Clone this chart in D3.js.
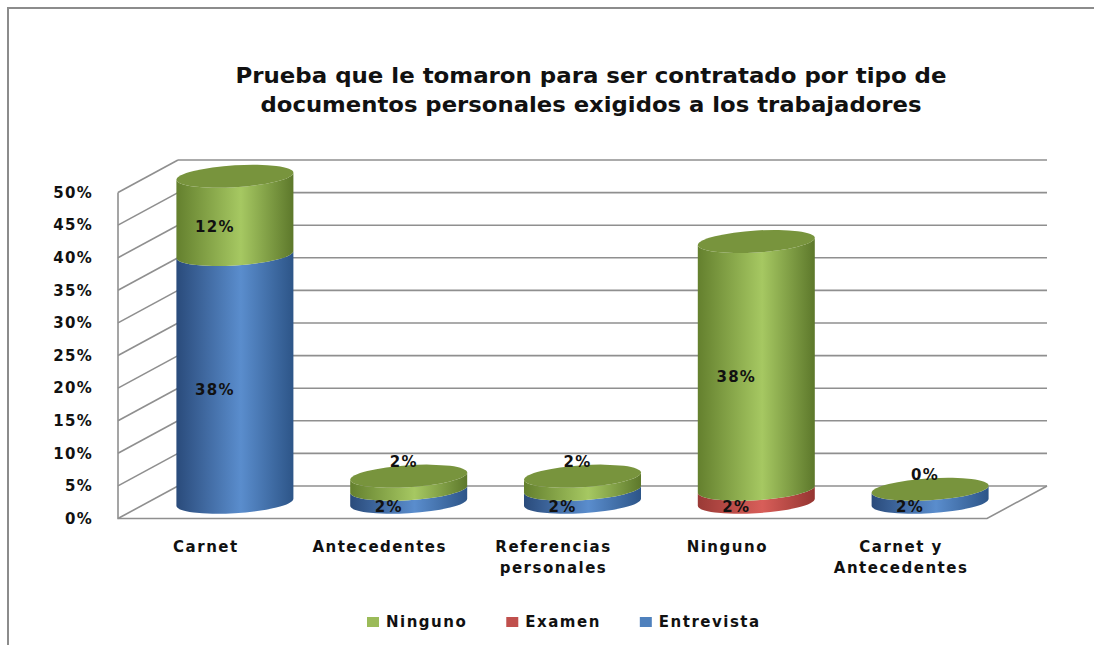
<!DOCTYPE html>
<html>
<head>
<meta charset="utf-8">
<script src="https://cdn.jsdelivr.net/npm/d3@7"></script>
<style>
  body { margin: 0; background: #fff; }
  text { font-family: "DejaVu Sans", Verdana, sans-serif; fill: #111; }
</style>
</head>
<body>
<script>
// Chart data
const titleLines = ["Prueba que le tomaron para ser contratado por tipo de",
                    "documentos personales exigidos a los trabajadores"];
const categories = ["Carnet", "Antecedentes", "Referencias personales", "Ninguno", "Carnet y Antecedentes"];
const categoryLines = [["Carnet"], ["Antecedentes"], ["Referencias", "personales"], ["Ninguno"], ["Carnet y", "Antecedentes"]];
const series = ["Entrevista", "Examen", "Ninguno"];   // stacking order, bottom to top
const entrevista = [38, 2, 2, null, 2];
const examen = [null, null, null, 2, null];
const ninguno = [12, 2, 2, 38, 0];
const yTicks = [0, 5, 10, 15, 20, 25, 30, 35, 40, 45, 50];
const legendOrder = ["Ninguno", "Examen", "Entrevista"];

const values = { Entrevista: entrevista, Examen: examen, Ninguno: ninguno };

const colors = {
  Entrevista: { left: "#2a4b7b", light: "#5a8dcd", right: "#2d5588", top: "#4a78b0", key: "#4f81bd" },
  Examen:     { left: "#9a3a36", light: "#d85e59", right: "#953531", top: "#c0504d", key: "#c0504d" },
  Ninguno:    { left: "#64802e", light: "#a6c862", right: "#5d782b", top: "#78943d", key: "#9bbb59" }
};

const width = 1094;
const height = 645;
const depth = { x: -60, y: 32.5 };   // offset from back wall to front edge
const cylWidth = 117;
const ry = 11;
const tilt = -3.5;

const svg = d3.select("body").append("svg")
    .attr("width", width)
    .attr("height", height);

// outer frame (only top and left show)
svg.append("path")
    .attr("d", `M8,${height} L8,8 L${width},8`)
    .attr("fill", "none")
    .attr("stroke", "#8c8c8c")
    .attr("stroke-width", 2);

// Title
svg.append("g").selectAll("text")
    .data(titleLines)
    .enter().append("text")
    .attr("x", 591)
    .attr("y", (d, i) => 83 + i * 29)
    .attr("text-anchor", "middle")
    .attr("font-size", 21)
    .attr("font-weight", "bold")
    .attr("textLength", (d, i) => i === 0 ? 711 : 661)
    .attr("lengthAdjust", "spacingAndGlyphs")
    .text(d => d);

// Scales on the back wall
const x = d3.scaleBand().domain(categories).range([178, 1047]);
const y = d3.scaleLinear().domain([0, 50]).range([486, 160]);
const x0 = x.range()[0], x1 = x.range()[1];

// gradients for cylinder sides
const defs = svg.append("defs");
series.forEach(s => {
  const g = defs.append("linearGradient")
      .attr("id", "grad-" + s)
      .attr("x1", 0).attr("x2", 1).attr("y1", 0).attr("y2", 0);
  g.append("stop").attr("offset", 0).attr("stop-color", colors[s].left);
  g.append("stop").attr("offset", 0.55).attr("stop-color", colors[s].light);
  g.append("stop").attr("offset", 1).attr("stop-color", colors[s].right);
});

const grid = svg.append("g")
    .attr("stroke", "#8f8f8f")
    .attr("stroke-width", 1.6)
    .attr("fill", "none");

// back wall gridlines
grid.selectAll(".back")
    .data(yTicks)
    .enter().append("line")
    .attr("x1", x0).attr("x2", x1)
    .attr("y1", d => y(d)).attr("y2", d => y(d));

// left wall gridlines
grid.selectAll(".side")
    .data(yTicks)
    .enter().append("line")
    .attr("x1", x0).attr("y1", d => y(d))
    .attr("x2", x0 + depth.x).attr("y2", d => y(d) + depth.y);

// left wall front edge and floor
grid.append("path")
    .attr("d", `M${x0 + depth.x},${y(50) + depth.y} L${x0 + depth.x},${y(0) + depth.y}
                L${x1 + depth.x},${y(0) + depth.y} L${x1},${y(0)}`);

// y axis labels
svg.append("g").selectAll("text")
    .data(yTicks)
    .enter().append("text")
    .attr("x", 93)
    .attr("y", d => y(d) + depth.y)
    .attr("dy", "0.35em")
    .attr("text-anchor", "end")
    .attr("font-size", 15)
    .attr("font-weight", "bold")
    .attr("letter-spacing", 1.3)
    .text(d => d + "%");

// category labels at the front edge
const catG = svg.append("g").selectAll("text")
    .data(categories)
    .enter().append("text")
    .attr("text-anchor", "middle")
    .attr("font-size", 15)
    .attr("font-weight", "bold")
    .attr("letter-spacing", 1.5);
catG.selectAll("tspan")
    .data((d, i) => categoryLines[i].map(t => ({ t, c: d })))
    .enter().append("tspan")
    .attr("x", d => x(d.c) + x.bandwidth() / 2 + depth.x + 1)
    .attr("y", (d, i) => 552 + i * 21)
    .text(d => d.t);

// cylinders
const midY = v => y(v) + depth.y / 2;
const r = cylWidth / 2;

function sidePath(v0, v1) {
  const yb = midY(v0), yt = midY(v1);
  return `M${-r},${yt} L${-r},${yb} A${r},${ry} 0 0 0 ${r},${yb} L${r},${yt} A${r},${ry} 0 0 1 ${-r},${yt} Z`;
}

const labels = [];
categories.forEach((c, i) => {
  const cx = x(c) + x.bandwidth() / 2 + depth.x / 2;
  const segs = [];
  let acc = 0;
  series.forEach(s => {
    const v = values[s][i];
    if (v === null) return;
    segs.push({ s, v, v0: acc, v1: acc + v });
    acc += v;
  });

  const g = svg.append("g")
      .attr("transform", `translate(${cx},0) skewY(${tilt})`);

  g.selectAll("path.side")
      .data(segs)
      .enter().append("path")
      .attr("class", "side")
      .attr("d", d => sidePath(d.v0, d.v1))
      .attr("fill", d => `url(#grad-${d.s})`);

  const top = segs[segs.length - 1];
  g.append("ellipse")
      .attr("cx", 0)
      .attr("cy", midY(top.v1))
      .attr("rx", r)
      .attr("ry", ry)
      .attr("fill", colors[top.s].top);

  segs.forEach((d, k) => {
    const isTop = k === segs.length - 1;
    const hpx = midY(d.v0) - midY(d.v1);
    if (isTop && hpx < 20) {
      labels.push({ x: cx - 5, y: midY(d.v1) - ry - 3, t: d.v + "%" });
    } else {
      labels.push({ x: cx - 20, y: midY((d.v0 + d.v1) / 2) + ry, t: d.v + "%" });
    }
  });
});

// data labels
svg.append("g").selectAll("text")
    .data(labels)
    .enter().append("text")
    .attr("x", d => d.x)
    .attr("y", d => d.y)
    .attr("dy", "0.35em")
    .attr("text-anchor", "middle")
    .attr("font-size", 15)
    .attr("font-weight", "bold")
    .attr("letter-spacing", 1.3)
    .text(d => d.t);

// legend
const legend = svg.append("g");
let lx = 367;
legendOrder.forEach(s => {
  legend.append("rect")
      .attr("x", lx).attr("y", 617)
      .attr("width", 12).attr("height", 10)
      .attr("fill", colors[s].key);
  const t = legend.append("text")
      .attr("x", lx + 19)
      .attr("y", 622)
      .attr("dy", "0.35em")
      .attr("font-size", 15)
      .attr("font-weight", "bold")
      .attr("letter-spacing", 1.5)
      .text(s);
  lx += 19 + t.node().getComputedTextLength() + 39;
});
</script>
</body>
</html>
